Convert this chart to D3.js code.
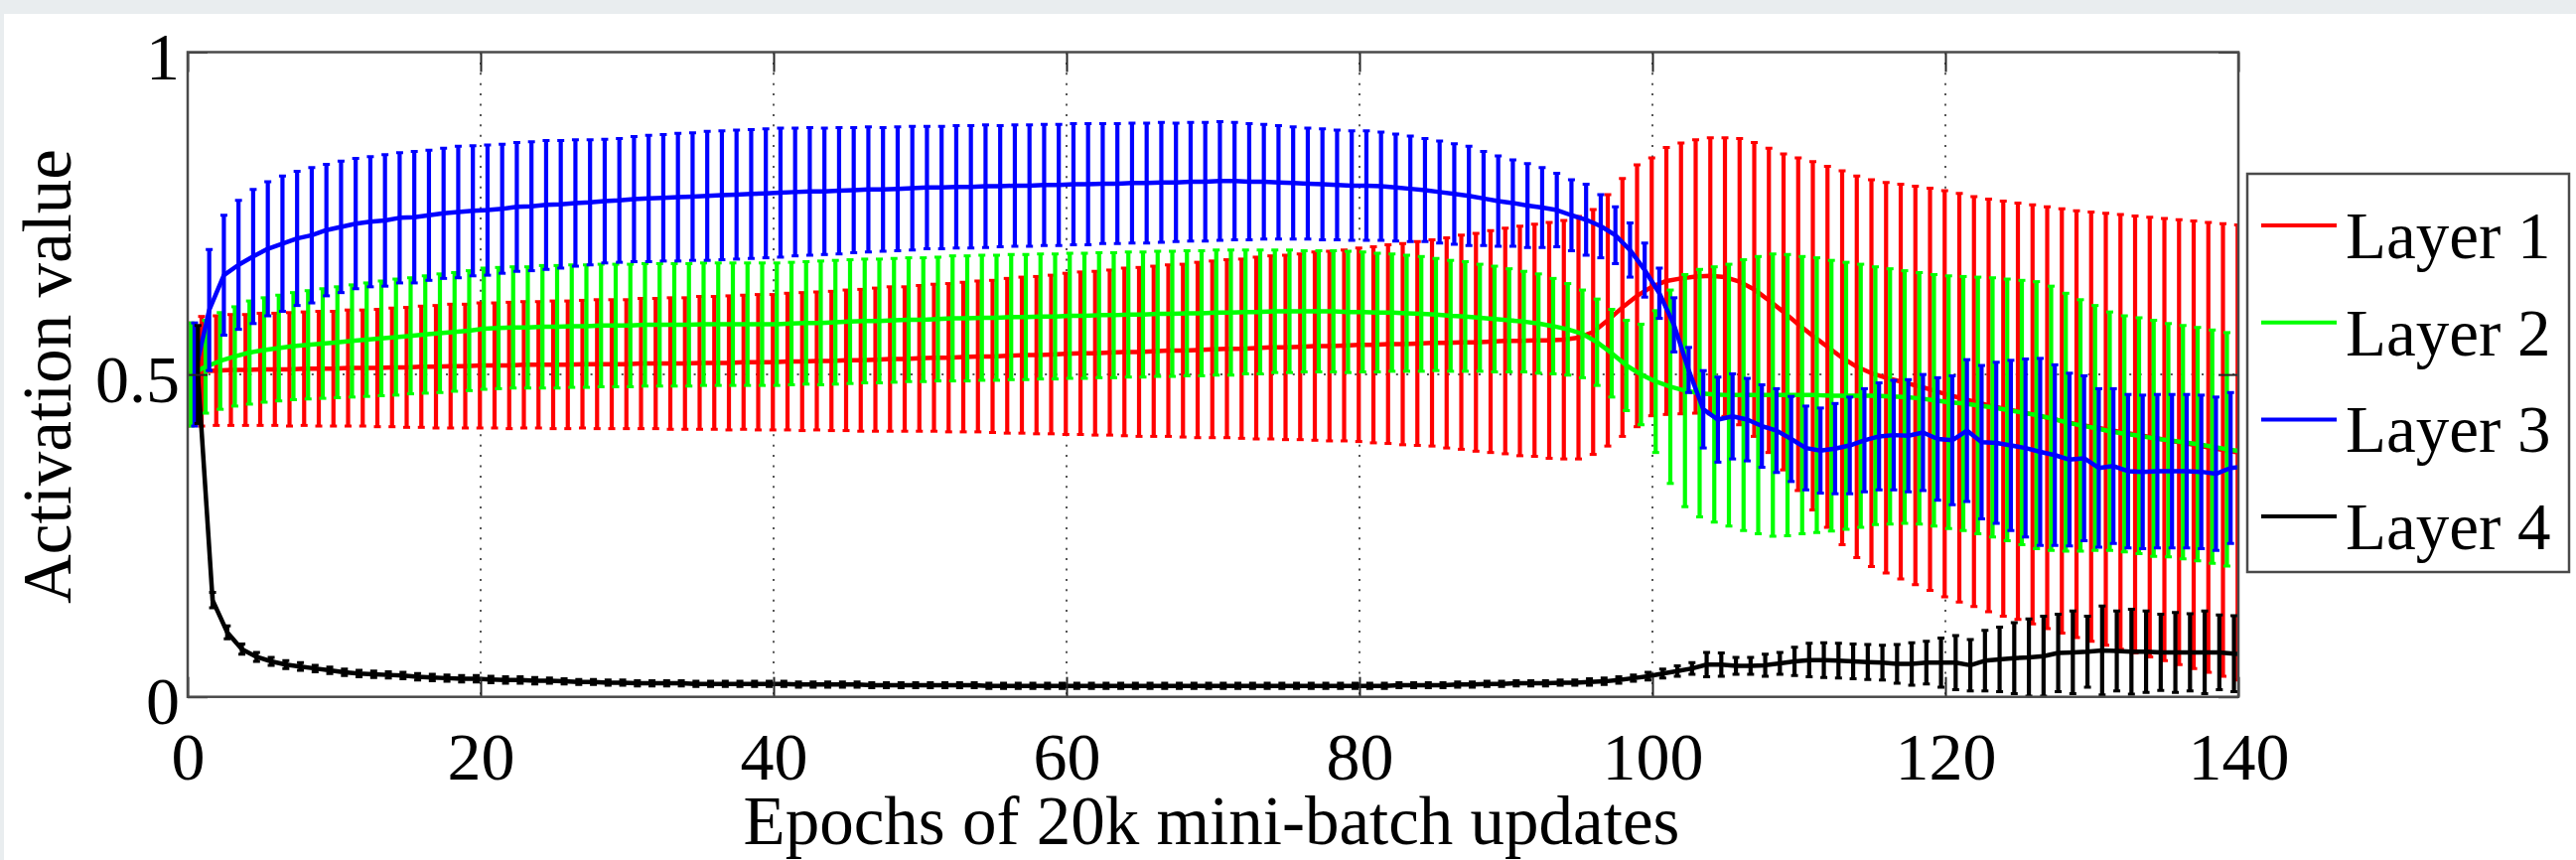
<!DOCTYPE html>
<html>
<head>
<meta charset="utf-8">
<script src="https://cdn.jsdelivr.net/npm/d3@7"></script>
<style>
  html, body { margin: 0; padding: 0; background: #e9edef; }
  svg { display: block; }
  text { font-family: "Liberation Serif", "Times New Roman", serif; fill: #000; }
</style>
</head>
<body>
<svg id="chart" width="2594" height="866"></svg>
<script>
// x ticks / y ticks
const xTicks = [0, 20, 40, 60, 80, 100, 120, 140];
const xTickLabels = ["0", "20", "40", "60", "80", "100", "120", "140"];
const yTicks = [0, 0.5, 1];
const yTickLabels = ["0", "0.5", "1"];

const layerNames = ["Layer 1", "Layer 2", "Layer 3", "Layer 4"];
const layerColors = ["#ff0000", "#00ff00", "#0000ff", "#000000"];
// small x shift (in epochs) of each layer's error bars
const layerShift = [-0.05, 0.22, 0.47, 0.7];

// mean activation per epoch 0..140
const layer1Mean = [
  0.500,
  0.505, 0.506, 0.507, 0.507, 0.508, 0.508, 0.508, 0.509, 0.509,
  0.509, 0.510, 0.510, 0.510, 0.511, 0.511, 0.512, 0.512, 0.513, 0.513,
  0.514, 0.514, 0.514, 0.515, 0.515, 0.515, 0.515, 0.516, 0.516, 0.516,
  0.516, 0.517, 0.517, 0.517, 0.517, 0.518, 0.518, 0.518, 0.519, 0.519,
  0.519, 0.520, 0.520, 0.521, 0.521, 0.522, 0.522, 0.523, 0.524, 0.524,
  0.525, 0.526, 0.526, 0.527, 0.528, 0.528, 0.529, 0.530, 0.530, 0.531,
  0.532, 0.533, 0.533, 0.534, 0.535, 0.535, 0.536, 0.537, 0.537, 0.538,
  0.539, 0.540, 0.540, 0.541, 0.542, 0.542, 0.543, 0.544, 0.544, 0.545,
  0.546, 0.546, 0.547, 0.547, 0.548, 0.549, 0.549, 0.550, 0.550, 0.551,
  0.552, 0.552, 0.553, 0.553, 0.554, 0.557, 0.566, 0.584, 0.604, 0.622,
  0.636, 0.645, 0.649, 0.652, 0.653, 0.651, 0.644, 0.632, 0.615, 0.597,
  0.578, 0.560, 0.543, 0.526, 0.512, 0.502, 0.495, 0.489, 0.483, 0.477,
  0.470, 0.464, 0.458, 0.452, 0.447, 0.443, 0.438, 0.433, 0.428, 0.423,
  0.419, 0.415, 0.411, 0.407, 0.403, 0.399, 0.395, 0.391, 0.387, 0.383, 0.379
];
const layer1Std = [
  0.080,
  0.085, 0.085, 0.086, 0.086, 0.087, 0.087, 0.088, 0.088, 0.089,
  0.089, 0.090, 0.090, 0.091, 0.092, 0.093, 0.094, 0.095, 0.096, 0.096,
  0.097, 0.097, 0.098, 0.098, 0.098, 0.099, 0.099, 0.099, 0.100, 0.100,
  0.100, 0.101, 0.101, 0.102, 0.102, 0.103, 0.103, 0.104, 0.104, 0.105,
  0.105, 0.106, 0.107, 0.107, 0.108, 0.109, 0.110, 0.111, 0.112, 0.112,
  0.113, 0.114, 0.115, 0.116, 0.117, 0.118, 0.120, 0.121, 0.122, 0.123,
  0.125, 0.126, 0.127, 0.128, 0.130, 0.131, 0.132, 0.133, 0.134, 0.136,
  0.137, 0.138, 0.139, 0.141, 0.142, 0.143, 0.144, 0.146, 0.147, 0.148,
  0.150, 0.152, 0.154, 0.156, 0.158, 0.160, 0.163, 0.166, 0.169, 0.172,
  0.175, 0.178, 0.180, 0.183, 0.185, 0.188, 0.190, 0.195, 0.200, 0.203,
  0.200, 0.207, 0.210, 0.212, 0.214, 0.216, 0.222, 0.228, 0.236, 0.245,
  0.258, 0.270, 0.280, 0.290, 0.296, 0.300, 0.303, 0.306, 0.309, 0.312,
  0.315, 0.317, 0.318, 0.320, 0.322, 0.323, 0.325, 0.327, 0.329, 0.331,
  0.333, 0.335, 0.337, 0.339, 0.341, 0.343, 0.345, 0.347, 0.349, 0.351, 0.353
];

const layer2Mean = [
  0.500,
  0.512, 0.521, 0.528, 0.534, 0.538, 0.541, 0.544, 0.546, 0.548,
  0.550, 0.552, 0.554, 0.556, 0.558, 0.560, 0.562, 0.564, 0.566, 0.568,
  0.571, 0.572, 0.573, 0.573, 0.574, 0.574, 0.575, 0.575, 0.576, 0.576,
  0.576, 0.577, 0.577, 0.577, 0.577, 0.578, 0.578, 0.578, 0.578, 0.578,
  0.578, 0.579, 0.580, 0.580, 0.581, 0.582, 0.583, 0.583, 0.584, 0.585,
  0.585, 0.586, 0.587, 0.587, 0.588, 0.588, 0.589, 0.589, 0.590, 0.590,
  0.591, 0.591, 0.592, 0.592, 0.593, 0.593, 0.594, 0.594, 0.595, 0.595,
  0.596, 0.596, 0.597, 0.597, 0.598, 0.598, 0.598, 0.598, 0.598, 0.597,
  0.597, 0.596, 0.596, 0.595, 0.594, 0.593, 0.591, 0.590, 0.588, 0.586,
  0.584, 0.582, 0.579, 0.575, 0.570, 0.563, 0.550, 0.533, 0.514, 0.500,
  0.489, 0.481, 0.475, 0.471, 0.469, 0.468, 0.468, 0.468, 0.468, 0.468,
  0.468, 0.468, 0.467, 0.467, 0.467, 0.467, 0.466, 0.465, 0.463, 0.460,
  0.457, 0.455, 0.452, 0.449, 0.445, 0.441, 0.437, 0.432, 0.426, 0.421,
  0.417, 0.412, 0.408, 0.405, 0.401, 0.398, 0.395, 0.392, 0.388, 0.384, 0.381
];
const layer2Std = [
  0.080,
  0.072, 0.075, 0.077, 0.080, 0.081, 0.082, 0.083, 0.084, 0.085,
  0.086, 0.087, 0.088, 0.089, 0.090, 0.090, 0.091, 0.092, 0.092, 0.093,
  0.094, 0.094, 0.094, 0.094, 0.095, 0.095, 0.095, 0.095, 0.095, 0.095,
  0.095, 0.095, 0.095, 0.095, 0.095, 0.095, 0.095, 0.095, 0.095, 0.095,
  0.095, 0.095, 0.095, 0.096, 0.096, 0.096, 0.096, 0.096, 0.096, 0.096,
  0.096, 0.096, 0.097, 0.097, 0.097, 0.097, 0.097, 0.097, 0.097, 0.097,
  0.097, 0.097, 0.097, 0.097, 0.097, 0.097, 0.097, 0.097, 0.097, 0.097,
  0.097, 0.097, 0.096, 0.096, 0.095, 0.095, 0.094, 0.094, 0.094, 0.094,
  0.093, 0.092, 0.091, 0.090, 0.089, 0.087, 0.086, 0.085, 0.083, 0.082,
  0.080, 0.078, 0.077, 0.074, 0.071, 0.068, 0.067, 0.068, 0.070, 0.078,
  0.110, 0.150, 0.180, 0.192, 0.198, 0.203, 0.210, 0.215, 0.219, 0.218,
  0.215, 0.213, 0.210, 0.207, 0.204, 0.200, 0.198, 0.196, 0.195, 0.195,
  0.196, 0.197, 0.199, 0.201, 0.203, 0.205, 0.207, 0.205, 0.200, 0.195,
  0.190, 0.185, 0.183, 0.183, 0.183, 0.181, 0.181, 0.181, 0.181, 0.181, 0.180
];

const layer3Mean = [
  0.500,
  0.600, 0.654, 0.670, 0.683, 0.695, 0.703, 0.711, 0.716, 0.724,
  0.729, 0.734, 0.737, 0.739, 0.743, 0.744, 0.747, 0.750, 0.752, 0.754,
  0.755, 0.757, 0.760, 0.761, 0.763, 0.764, 0.766, 0.767, 0.769, 0.770,
  0.772, 0.773, 0.774, 0.775, 0.776, 0.777, 0.778, 0.779, 0.780, 0.781,
  0.782, 0.783, 0.784, 0.784, 0.785, 0.786, 0.787, 0.787, 0.788, 0.789,
  0.790, 0.790, 0.791, 0.791, 0.792, 0.792, 0.793, 0.793, 0.794, 0.794,
  0.795, 0.795, 0.796, 0.796, 0.797, 0.797, 0.798, 0.798, 0.799, 0.799,
  0.800, 0.800, 0.799, 0.799, 0.798, 0.797, 0.796, 0.795, 0.794, 0.793,
  0.793, 0.792, 0.790, 0.788, 0.786, 0.783, 0.780, 0.777, 0.773, 0.769,
  0.766, 0.762, 0.759, 0.755, 0.747, 0.740, 0.730, 0.716, 0.693, 0.662,
  0.626, 0.577, 0.507, 0.446, 0.430, 0.435, 0.430, 0.420, 0.413, 0.400,
  0.386, 0.382, 0.385, 0.390, 0.398, 0.404, 0.406, 0.405, 0.410, 0.400,
  0.398, 0.413, 0.395, 0.394, 0.390, 0.386, 0.380, 0.375, 0.368, 0.370,
  0.355, 0.358, 0.350, 0.349, 0.350, 0.350, 0.350, 0.349, 0.346, 0.355, 0.357
];
const layer3Std = [
  0.080,
  0.094, 0.093, 0.100, 0.104, 0.104, 0.105, 0.104, 0.105, 0.102,
  0.102, 0.101, 0.101, 0.102, 0.101, 0.102, 0.101, 0.101, 0.102, 0.101,
  0.101, 0.100, 0.100, 0.100, 0.100, 0.099, 0.098, 0.097, 0.096, 0.096,
  0.097, 0.098, 0.098, 0.099, 0.099, 0.100, 0.100, 0.100, 0.100, 0.100,
  0.100, 0.099, 0.099, 0.098, 0.098, 0.097, 0.097, 0.096, 0.096, 0.096,
  0.095, 0.095, 0.095, 0.095, 0.095, 0.094, 0.094, 0.094, 0.094, 0.094,
  0.094, 0.094, 0.093, 0.093, 0.093, 0.093, 0.093, 0.092, 0.092, 0.092,
  0.092, 0.091, 0.090, 0.089, 0.088, 0.087, 0.086, 0.086, 0.085, 0.085,
  0.085, 0.084, 0.083, 0.082, 0.080, 0.079, 0.078, 0.077, 0.073, 0.070,
  0.067, 0.065, 0.062, 0.057, 0.055, 0.055, 0.049, 0.044, 0.042, 0.042,
  0.039, 0.042, 0.035, 0.060, 0.066, 0.066, 0.064, 0.064, 0.065, 0.066,
  0.065, 0.066, 0.070, 0.075, 0.080, 0.083, 0.085, 0.087, 0.090, 0.095,
  0.100, 0.110, 0.119, 0.125, 0.132, 0.138, 0.145, 0.140, 0.134, 0.128,
  0.123, 0.120, 0.119, 0.119, 0.119, 0.119, 0.119, 0.119, 0.119, 0.117, 0.117
];

const layer4Mean = [
  0.500,
  0.150, 0.100, 0.074, 0.062, 0.055, 0.050, 0.047, 0.044, 0.041,
  0.038, 0.036, 0.035, 0.034, 0.033, 0.031, 0.030, 0.029, 0.028, 0.028,
  0.027, 0.026, 0.026, 0.025, 0.025, 0.024, 0.023, 0.023, 0.022, 0.022,
  0.021, 0.021, 0.021, 0.021, 0.020, 0.020, 0.020, 0.020, 0.020, 0.020,
  0.020, 0.019, 0.019, 0.019, 0.019, 0.019, 0.018, 0.018, 0.018, 0.018,
  0.018, 0.018, 0.018, 0.018, 0.017, 0.017, 0.017, 0.017, 0.017, 0.017,
  0.017, 0.017, 0.017, 0.017, 0.017, 0.017, 0.017, 0.017, 0.017, 0.017,
  0.017, 0.017, 0.017, 0.017, 0.017, 0.017, 0.017, 0.017, 0.017, 0.017,
  0.017, 0.017, 0.018, 0.018, 0.018, 0.018, 0.019, 0.019, 0.020, 0.020,
  0.021, 0.021, 0.021, 0.022, 0.022, 0.023, 0.024, 0.026, 0.029, 0.032,
  0.036, 0.040, 0.044, 0.050, 0.050, 0.048, 0.048, 0.049, 0.052, 0.055,
  0.057, 0.057, 0.056, 0.055, 0.054, 0.053, 0.051, 0.051, 0.053, 0.053,
  0.053, 0.049, 0.056, 0.058, 0.060, 0.061, 0.063, 0.068, 0.069, 0.070,
  0.072, 0.071, 0.070, 0.070, 0.069, 0.069, 0.069, 0.069, 0.069, 0.067, 0.066
];
const layer4Std = [
  0.076,
  0.012, 0.010, 0.008, 0.007, 0.006, 0.006, 0.006, 0.005, 0.005,
  0.005, 0.005, 0.005, 0.005, 0.005, 0.005, 0.005, 0.005, 0.005, 0.005,
  0.005, 0.005, 0.005, 0.005, 0.004, 0.004, 0.004, 0.004, 0.004, 0.004,
  0.004, 0.004, 0.004, 0.004, 0.004, 0.004, 0.004, 0.004, 0.004, 0.004,
  0.004, 0.004, 0.004, 0.004, 0.004, 0.004, 0.004, 0.004, 0.004, 0.004,
  0.004, 0.004, 0.004, 0.004, 0.004, 0.004, 0.004, 0.004, 0.004, 0.004,
  0.004, 0.004, 0.004, 0.004, 0.004, 0.004, 0.004, 0.004, 0.004, 0.004,
  0.004, 0.004, 0.004, 0.004, 0.004, 0.004, 0.004, 0.004, 0.004, 0.004,
  0.004, 0.004, 0.004, 0.004, 0.004, 0.004, 0.004, 0.004, 0.004, 0.004,
  0.004, 0.004, 0.004, 0.004, 0.004, 0.005, 0.005, 0.005, 0.005, 0.006,
  0.007, 0.008, 0.009, 0.019, 0.018, 0.013, 0.013, 0.017, 0.017, 0.022,
  0.026, 0.027, 0.027, 0.027, 0.027, 0.027, 0.030, 0.033, 0.033, 0.038,
  0.042, 0.040, 0.047, 0.050, 0.055, 0.060, 0.062, 0.060, 0.064, 0.055,
  0.069, 0.062, 0.066, 0.063, 0.059, 0.062, 0.060, 0.064, 0.058, 0.059, 0.060
];

const means = [layer1Mean, layer2Mean, layer3Mean, layer4Mean];
const stds = [layer1Std, layer2Std, layer3Std, layer4Std];

const svg = d3.select("#chart");
const W = 2594, H = 866;

// page panel
svg.append("rect").attr("x", 4).attr("y", 14).attr("width", W - 4).attr("height", H - 14).attr("fill", "#fff");

const plotL = 189, plotR = 2254, plotT = 52.5, plotB = 701.7;
const x = d3.scaleLinear().domain([0, 140]).range([plotL, plotR]);
const y = d3.scaleLinear().domain([0, 1]).range([plotB, plotT]);

svg.append("clipPath").attr("id", "plotclip")
  .append("rect").attr("x", plotL).attr("y", plotT)
  .attr("width", plotR - plotL).attr("height", plotB - plotT);

// dotted grid
const grid = svg.append("g").attr("stroke", "#555").attr("stroke-width", 2)
  .attr("stroke-dasharray", "2,8.4");
grid.selectAll("line.gx").data(xTicks.filter(d => d > 0 && d < 140)).join("line")
  .attr("x1", d => x(d)).attr("x2", d => x(d)).attr("y1", plotT).attr("y2", plotB);
grid.selectAll("line.gy").data(yTicks.filter(d => d > 0 && d < 1)).join("line")
  .attr("x1", plotL).attr("x2", plotR).attr("y1", d => y(d)).attr("y2", d => y(d));

// layers: mean line + error bars (mean +/- std)
const plot = svg.append("g").attr("clip-path", "url(#plotclip)");
const capW = 3.5;
means.forEach((m, k) => {
  const pts = m.map((v, i) => ({ e: i + layerShift[k], m: v, s: stds[k][i] }));
  const g = plot.append("g").attr("stroke", layerColors[k]).attr("fill", "none");
  g.append("path").datum(pts)
    .attr("stroke-width", 4.5).attr("stroke-linejoin", "round")
    .attr("d", d3.line().x(d => x(d.e)).y(d => y(d.m)));
  const bars = g.selectAll("g.bar").data(pts).join("g").attr("stroke-width", 4.2);
  bars.append("line")
    .attr("x1", d => x(d.e)).attr("x2", d => x(d.e))
    .attr("y1", d => y(d.m - d.s)).attr("y2", d => y(d.m + d.s));
  bars.append("line")
    .attr("x1", d => x(d.e) - capW).attr("x2", d => x(d.e) + capW)
    .attr("y1", d => y(d.m + d.s)).attr("y2", d => y(d.m + d.s)).attr("stroke-width", 3);
  bars.append("line")
    .attr("x1", d => x(d.e) - capW).attr("x2", d => x(d.e) + capW)
    .attr("y1", d => y(d.m - d.s)).attr("y2", d => y(d.m - d.s)).attr("stroke-width", 3);
});

// axes (inward ticks on all four sides)
const tickLen = 20;
const xAxis = svg.append("g").attr("transform", `translate(0,${plotB})`)
  .call(d3.axisBottom(x).tickValues(xTicks).tickFormat((d, i) => xTickLabels[i])
    .tickSizeInner(-tickLen).tickSizeOuter(0).tickPadding(0));
xAxis.selectAll("text").attr("y", 83).attr("dy", null).attr("font-size", 68);

svg.append("g").attr("transform", `translate(0,${plotT})`)
  .call(d3.axisTop(x).tickValues(xTicks).tickFormat("").tickSizeInner(-tickLen).tickSizeOuter(0));

const yAxis = svg.append("g").attr("transform", `translate(${plotL},0)`)
  .call(d3.axisLeft(y).tickValues(yTicks).tickFormat((d, i) => yTickLabels[i])
    .tickSizeInner(-tickLen).tickSizeOuter(0).tickPadding(0));
yAxis.selectAll("text").attr("x", -8).attr("dy", 27).attr("font-size", 68);

svg.append("g").attr("transform", `translate(${plotR},0)`)
  .call(d3.axisRight(y).tickValues(yTicks).tickFormat("").tickSizeInner(-tickLen).tickSizeOuter(0));

svg.selectAll(".domain").remove();
svg.selectAll(".tick line").attr("stroke", "#262626").attr("stroke-width", 2);
svg.selectAll(".tick text").attr("font-family", "Liberation Serif, Times New Roman, serif").attr("fill", "#000");

svg.append("rect").attr("x", plotL).attr("y", plotT)
  .attr("width", plotR - plotL).attr("height", plotB - plotT)
  .attr("fill", "none").attr("stroke", "#4a4a4a").attr("stroke-width", 2.5);

// axis labels
svg.append("text").attr("x", 1220).attr("y", 850).attr("text-anchor", "middle")
  .attr("font-size", 69).text("Epochs of 20k mini-batch updates");
svg.append("text").attr("transform", "translate(71,379) rotate(-90)")
  .attr("text-anchor", "middle").attr("font-size", 69).text("Activation value");

// legend
const lg = svg.append("g");
lg.append("rect").attr("x", 2263).attr("y", 175).attr("width", 324).attr("height", 401)
  .attr("fill", "#fff").attr("stroke", "#4a4a4a").attr("stroke-width", 2.5);
const items = lg.selectAll("g.item").data(layerNames).join("g")
  .attr("transform", (d, i) => `translate(0,${227 + i * 97.7})`);
items.append("line").attr("x1", 2277).attr("x2", 2353).attr("y1", 0).attr("y2", 0)
  .attr("stroke", (d, i) => layerColors[i]).attr("stroke-width", 4);
items.append("text").attr("x", 2362).attr("y", 33).attr("font-size", 67).text(d => d);
</script>
</body>
</html>
